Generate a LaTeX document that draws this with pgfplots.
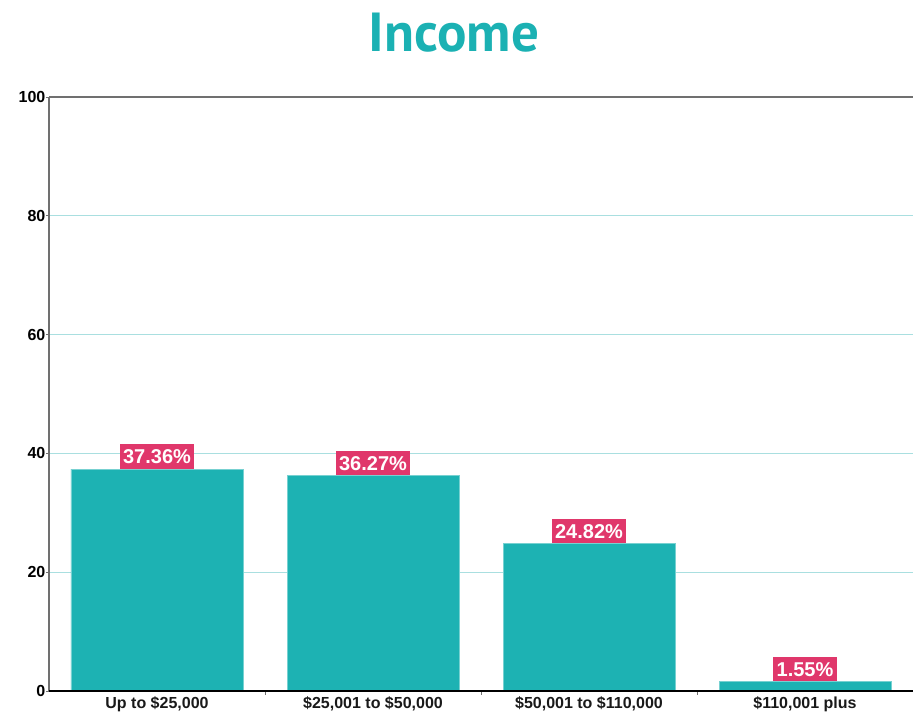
\documentclass[border=0pt]{standalone}
\usepackage{fontspec}
\setmainfont{Liberation Sans}
\newfontfamily\titlefont{PT Sans}
\usepackage{pgfplots}
\pgfplotsset{compat=1.18}
\definecolor{barteal}{HTML}{1DB2B3}
\definecolor{titleteal}{HTML}{1BB1B3}
\definecolor{labelpink}{HTML}{E0376B}
\definecolor{gridteal}{HTML}{A9DFE0}
\definecolor{axisgray}{HTML}{707070}
\begin{document}
\begin{tikzpicture}[x=1pt,y=1pt]
\useasboundingbox (-49,-21) rectangle (864,691);
\node[anchor=base, font=\titlefont\bfseries\fontsize{55}{55}\selectfont, text=titleteal, inner sep=0pt] at (405,639) {Income};
\begin{axis}[
  scale only axis, width=864pt, height=594pt,
  xmin=-0.5, xmax=3.5, ymin=0, ymax=100,
  axis x line*=bottom, axis y line*=left,
  x axis line style={black, line width=1.2pt},
  y axis line style={axisgray, line width=1.2pt},
  xtick={0,1,2,3},
  xticklabels={{Up to \$25,000},{\$25,001 to \$50,000},{\$50,001 to \$110,000},{\$110,001 plus}},
  minor xtick={0.5,1.5,2.5},
  ytick={0,20,40,60,80,100},
  ymajorgrids, grid style={gridteal, line width=0.9pt},
  tick align=outside, major tick length=3pt, minor tick length=4pt,
  major x tick style={draw=none},
  minor x tick style={axisgray, line width=0.8pt},
  ytick style={axisgray, line width=0.8pt},
  tick label style={font=\bfseries\fontsize{16}{16}\selectfont},
  /pgf/number format/assume math mode=true,
  yticklabel style={inner sep=0pt, xshift=-0.5pt},
  xticklabel style={inner sep=0pt, yshift=-2pt, text=black!90},
  ybar, bar width=172pt,
  nodes near coords={\pgfmathprintnumber[fixed,precision=2,fixed zerofill]{\pgfplotspointmeta}\%},
  nodes near coords style={fill=labelpink, text=white, font=\bfseries\fontsize{20}{20}\selectfont,
    inner xsep=3.5pt, inner ysep=5pt, text height=14.3pt, text depth=0pt, anchor=south},
]
\addplot[fill=barteal, draw=barteal!60!white, line width=0.6pt] coordinates {(0,37.36) (1,36.27) (2,24.82) (3,1.55)};
\draw[axisgray, line width=1.2pt] (axis cs:-0.5,100) -- (axis cs:3.5,100);
\draw[black, line width=1.2pt] (axis cs:-0.5,0) -- (axis cs:3.5,0);
\end{axis}
\end{tikzpicture}
\end{document}
